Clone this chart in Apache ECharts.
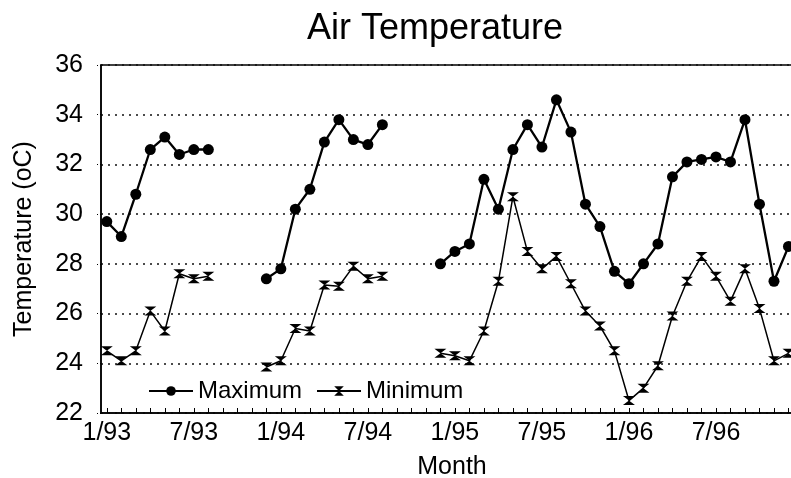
<!DOCTYPE html>
<html>
<head>
<meta charset="utf-8">
<script src="https://cdn.jsdelivr.net/npm/echarts@6/dist/echarts.min.js"></script>
<style>
html,body{margin:0;padding:0;background:#fff;}
#chart{width:791px;height:478px;}
</style>
</head>
<body>
<div id="chart"></div>
<script>
// Months Jan 1993 .. Dec 1996 (index 0..47)
var months = [
  '1/93','2/93','3/93','4/93','5/93','6/93','7/93','8/93','9/93','10/93','11/93','12/93',
  '1/94','2/94','3/94','4/94','5/94','6/94','7/94','8/94','9/94','10/94','11/94','12/94',
  '1/95','2/95','3/95','4/95','5/95','6/95','7/95','8/95','9/95','10/95','11/95','12/95',
  '1/96','2/96','3/96','4/96','5/96','6/96','7/96','8/96','9/96','10/96','11/96','12/96'
];
var maximum = [
  29.7, 29.1, 30.8, 32.6, 33.1, 32.4, 32.6, 32.6, null, null, null, 27.4,
  27.8, 30.2, 31.0, 32.9, 33.8, 33.0, 32.8, 33.6, null, null, null, 28.0,
  28.5, 28.8, 31.4, 30.2, 32.6, 33.6, 32.7, 34.6, 33.3, 30.4, 29.5, 27.7,
  27.2, 28.0, 28.8, 31.5, 32.1, 32.2, 32.3, 32.1, 33.8, 30.4, 27.3, 28.7
];
var minimum = [
  24.5, 24.1, 24.5, 26.1, 25.3, 27.6, 27.4, 27.5, null, null, null, 23.85,
  24.1, 25.4, 25.3, 27.15, 27.1, 27.9, 27.4, 27.5, null, null, null, 24.4,
  24.3, 24.1, 25.3, 27.3, 30.7, 28.5, 27.8, 28.3, 27.2, 26.1, 25.5, 24.5,
  22.5, 23.0, 23.9, 25.9, 27.3, 28.3, 27.5, 26.5, 27.8, 26.2, 24.1, 24.4
];
var tickLabels = ['1/93','7/93','1/94','7/94','1/95','7/95','1/96','7/96'];
var yTicks = [22, 24, 26, 28, 30, 32, 34, 36];

var FONT = "'Liberation Sans', Arial, sans-serif";

function toPoints(arr) {
  return arr.map(function (v, i) { return [i, v === null ? '-' : v]; });
}
var monthIdx = months.map(function (m, i) { return i; });
var labelIdx = tickLabels.map(function (t) { return months.indexOf(t); });

var chart = echarts.init(document.getElementById('chart'), null, {renderer: 'canvas'});
chart.setOption({
  backgroundColor: '#fff',
  animation: false,
  title: {
    text: 'Air Temperature',
    left: 302,
    top: 6,
    textStyle: {fontFamily: FONT, fontSize: 36, fontWeight: 'normal', color: '#000'}
  },
  legend: {
    left: 143,
    top: 374,
    itemWidth: 44,
    itemHeight: 12,
    itemGap: 14,
    textStyle: {fontFamily: FONT, fontSize: 24, color: '#000'},
    data: ['Maximum', 'Minimum']
  },
  grid: {
    left: 101,
    width: 702,
    top: 65,
    bottom: 65,
    show: true,
    borderColor: '#000',
    borderWidth: 1.5,
    containLabel: false,
    outerBoundsMode: 'none'
  },
  xAxis: {
    type: 'value',
    min: -0.4,
    max: 48,
    name: 'Month',
    nameLocation: 'middle',
    nameGap: 42,
    nameTextStyle: {fontFamily: FONT, fontSize: 25, color: '#000'},
    axisLine: {show: true, onZero: false, lineStyle: {color: '#000', width: 1.5}},
    axisTick: {show: true, inside: true, length: 5, customValues: monthIdx, lineStyle: {color: '#000', width: 1}},
    axisLabel: {
      show: true,
      customValues: labelIdx,
      margin: 8,
      fontFamily: FONT,
      fontSize: 25,
      color: '#000',
      formatter: function (v) { return months[Math.round(v)]; }
    },
    splitLine: {show: false}
  },
  yAxis: {
    type: 'value',
    min: 22,
    max: 36,
    interval: 2,
    name: 'Temperature (oC)',
    nameLocation: 'middle',
    nameGap: 64,
    nameRotate: 90,
    nameTextStyle: {fontFamily: FONT, fontSize: 25, color: '#000'},
    axisLine: {show: true, onZero: false, lineStyle: {color: '#000', width: 1.5}},
    axisTick: {show: true, length: 5, lineStyle: {color: '#000', width: 1, type: [1, 2]}},
    axisLabel: {
      margin: 18,
      fontFamily: FONT,
      fontSize: 25,
      color: '#000',
      formatter: function (v) { return yTicks.indexOf(v) >= 0 ? String(v) : ''; }
    },
    splitLine: {show: true, lineStyle: {color: '#111', width: 1.5, type: [2, 5]}}
  },
  series: [
    {
      name: 'Maximum',
      type: 'line',
      data: toPoints(maximum),
      connectNulls: false,
      symbol: 'circle',
      symbolSize: 11,
      itemStyle: {color: '#000'},
      lineStyle: {color: '#000', width: 2.3},
      z: 3
    },
    {
      name: 'Minimum',
      type: 'line',
      data: toPoints(minimum),
      connectNulls: false,
      symbol: 'path://M0,0 L12,0 L0,10 L12,10 Z',
      symbolSize: [12, 9],
      symbolKeepAspect: false,
      itemStyle: {color: '#000'},
      lineStyle: {color: '#000', width: 1.5},
      z: 2
    }
  ]
});
</script>
</body>
</html>
